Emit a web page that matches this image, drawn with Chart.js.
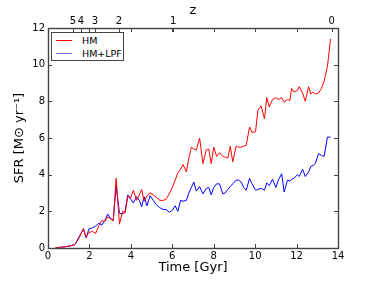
<!DOCTYPE html>
<html>
<head>
<meta charset="utf-8">
<script src="https://cdn.jsdelivr.net/npm/chart.js@4.4.1/dist/chart.umd.min.js"></script>
<style>
  body { margin: 0; background: #fff; }
  #wrap { position: relative; width: 376px; height: 282px; }
  #legend {
    position: absolute; left: 51px; top: 32px; width: 71px; height: 27px;
    border: 1px solid #444; background: #fff;
    font: 9.5px "DejaVu Sans", sans-serif; color: #000;
  }
  .legend-item { position: absolute; left: 0; height: 11px; line-height: 11px; white-space: nowrap; }
  .legend-line { position: absolute; left: 4px; top: 5px; width: 16px; height: 1px; }
  .legend-label { position: absolute; left: 30px; top: 0; }
</style>
</head>
<body>
<div id="wrap">
  <canvas id="chart"></canvas>
  <div id="legend"></div>
</div>
<script>
// time grid (Gyr)
const times = [0.35, 0.6, 0.9, 1.1, 1.3, 1.5, 1.71, 1.84, 1.98, 2.15, 2.3, 2.45, 2.6, 2.75, 2.88, 3.0, 3.15, 3.29, 3.45, 3.6,
  3.72, 3.85, 3.98, 4.12, 4.28, 4.41, 4.52, 4.64, 4.78, 4.93, 5.08, 5.24, 5.4, 5.56, 5.7, 5.85, 6.0, 6.14, 6.27, 6.4,
  6.52, 6.68, 6.8, 6.92, 7.04, 7.16, 7.32, 7.48, 7.64, 7.76, 7.88, 8.0, 8.14, 8.28, 8.44, 8.56, 8.68, 8.8, 8.92, 9.08,
  9.2, 9.32, 9.45, 9.57, 9.73, 9.85, 10.02, 10.13, 10.29, 10.45, 10.56, 10.68, 10.84, 11.0, 11.12, 11.28, 11.4, 11.56, 11.68, 11.76,
  11.88, 12.04, 12.13, 12.29, 12.42, 12.58, 12.69, 12.8, 12.9, 13.06, 13.2, 13.33, 13.49, 13.64];

const sfrHM = [0.0, 0.04, 0.08, 0.12, 0.18, 0.55, 1.05, 0.6, 0.85, 0.9, 0.8, 1.2, 1.5, 1.45, 1.7, 1.6, 1.5, 3.8, 1.3, 2.0,
  1.9, 2.8, 2.7, 3.15, 2.6, 2.9, 3.2, 2.55, 2.85, 3.0, 2.9, 2.75, 2.6, 2.6, 2.65, 2.95, 3.3, 3.7, 4.1, 4.3,
  4.55, 4.15, 4.9, 5.5, 5.4, 5.35, 6.0, 4.6, 5.35, 5.4, 4.6, 5.5, 5.0, 5.2, 5.0, 4.95, 4.9, 5.55, 4.7, 5.55,
  5.5, 5.5, 5.55, 5.6, 6.6, 6.3, 6.35, 7.5, 7.75, 7.05, 8.2, 7.7, 8.1, 8.2, 8.1, 8.2, 7.95, 8.1, 8.05, 8.7,
  8.5, 8.6, 8.8, 8.45, 8.0, 8.8, 8.4, 8.5, 8.4, 8.45, 8.7, 9.1, 9.9, 11.4];

const sfrHMLPF = [0.0, 0.04, 0.08, 0.12, 0.2, 0.6, 1.05, 0.55, 1.05, 1.1, 1.2, 1.35, 1.25, 1.5, 1.85, 1.65, 1.5, 3.4, 1.9, 1.85,
  2.0, 2.9, 2.7, 2.45, 2.8, 2.6, 2.25, 2.8, 2.3, 2.85, 2.6, 2.35, 2.2, 2.1, 2.1, 1.95, 2.05, 2.3, 2.0, 2.6,
  2.55, 2.6, 3.0, 3.3, 3.6, 3.1, 3.35, 2.95, 3.25, 3.3, 2.9, 3.3, 3.5, 3.5, 2.95, 3.0, 3.2, 3.35, 3.5, 3.7,
  3.7, 3.6, 3.3, 3.15, 3.8, 3.5, 3.15, 3.2, 3.25, 3.15, 3.55, 3.4, 3.75, 3.3, 3.7, 4.05, 3.05, 3.7, 3.65, 3.75,
  3.8, 4.0, 3.9, 4.3, 3.9, 4.15, 4.45, 4.5, 4.6, 5.15, 5.05, 5.0, 6.05, 6.05];

// redshift axis on top
const zLabels = ["5", "4", "3", "2", "1", "0"];
const zTimes = [1.2, 1.59, 2.26, 3.43, 6.04, 13.7];

const COLORS = { HM: "#ff0000", HMLPF: "#0000ff" };
const FONT = "'DejaVu Sans', sans-serif";

// matplotlib style: frame + inward ticks on all sides
const frameTicks = {
  id: "frameTicks",
  afterDraw(chart) {
    const { ctx, chartArea: a, scales } = chart;
    const len = 4;
    ctx.save();
    ctx.strokeStyle = "#444";
    ctx.lineWidth = 1;
    ctx.beginPath();
    scales.x.ticks.forEach((t) => {
      const px = Math.round(scales.x.getPixelForValue(t.value)) + 0.5;
      ctx.moveTo(px, a.bottom); ctx.lineTo(px, a.bottom - len);
      ctx.moveTo(px, a.top); ctx.lineTo(px, a.top + len);
    });
    scales.z.ticks.forEach((t) => {
      const px = Math.round(scales.z.getPixelForValue(t.value)) + 0.5;
      ctx.moveTo(px, a.top); ctx.lineTo(px, a.top + len);
    });
    scales.y.ticks.forEach((t) => {
      const py = Math.round(scales.y.getPixelForValue(t.value)) + 0.5;
      ctx.moveTo(a.left, py); ctx.lineTo(a.left + len, py);
      ctx.moveTo(a.right, py); ctx.lineTo(a.right - len, py);
    });
    ctx.stroke();
    ctx.lineWidth = 1.4;
    ctx.strokeRect(Math.round(a.left) + 0.5, Math.round(a.top) + 0.5,
      Math.round(a.right - a.left), Math.round(a.bottom - a.top));
    ctx.restore();
  },
};

function series(ys) {
  return ys.map((y, i) => ({ x: times[i], y }));
}

new Chart(document.getElementById("chart"), {
  type: "line",
  data: {
    datasets: [
      { label: "HM", data: series(sfrHM), borderColor: COLORS.HM, borderWidth: 1, pointRadius: 0, tension: 0, xAxisID: "x", yAxisID: "y" },
      { label: "HM+LPF", data: series(sfrHMLPF), borderColor: COLORS.HMLPF, borderWidth: 1, pointRadius: 0, tension: 0, xAxisID: "x", yAxisID: "y" },
    ],
  },
  options: {
    responsive: true,
    maintainAspectRatio: false,
    animation: false,
    layout: { padding: { left: 0, right: 38, top: 0, bottom: 0 } },
    plugins: { legend: { display: false }, tooltip: { enabled: false } },
    scales: {
      x: {
        type: "linear", position: "bottom", min: 0, max: 14,
        ticks: { stepSize: 2, color: "#000", padding: 2, font: { family: FONT, size: 10 }, maxRotation: 0 },
        grid: { display: false, drawTicks: false },
        border: { display: false },
        title: { display: true, text: "Time [Gyr]", color: "#000", font: { family: FONT, size: 13 }, padding: { top: 0, bottom: 7 } },
        afterFit(s) { s.height = 34; },
      },
      z: {
        type: "linear", position: "top", min: 0, max: 14,
        afterBuildTicks(s) { s.ticks = zTimes.map((v) => ({ value: v })); },
        ticks: { autoSkip: false, color: "#000", padding: 1, font: { family: FONT, size: 10 }, maxRotation: 0,
          callback: (v, i) => zLabels[i] },
        grid: { display: false, drawTicks: false },
        border: { display: false },
        title: { display: true, text: "z", color: "#000", font: { family: FONT, size: 13 }, padding: { top: 3, bottom: 0 } },
        afterFit(s) { s.height = 28; },
      },
      y: {
        type: "linear", position: "left", min: 0, max: 12,
        ticks: { stepSize: 2, color: "#000", padding: 3, font: { family: FONT, size: 10 } },
        grid: { display: false, drawTicks: false },
        border: { display: false },
        title: { display: true, text: "SFR [M\u2299 yr\u207B\u00B9]", color: "#000", font: { family: FONT, size: 13 }, padding: { top: 12, bottom: 0 } },
        afterFit(s) { s.width = 48; },
      },
    },
  },
  plugins: [frameTicks],
});

document.getElementById("legend").innerHTML = [
  { color: COLORS.HM, label: "HM" },
  { color: "#6f6fff", label: "HM+LPF" },
].map((it, i) =>
  `<span class="legend-item" style="top:${2 + i * 13}px;width:70px"><span class="legend-line" style="background:${it.color}"></span><span class="legend-label">${it.label}</span></span>`
).join("");
</script>
</body>
</html>
